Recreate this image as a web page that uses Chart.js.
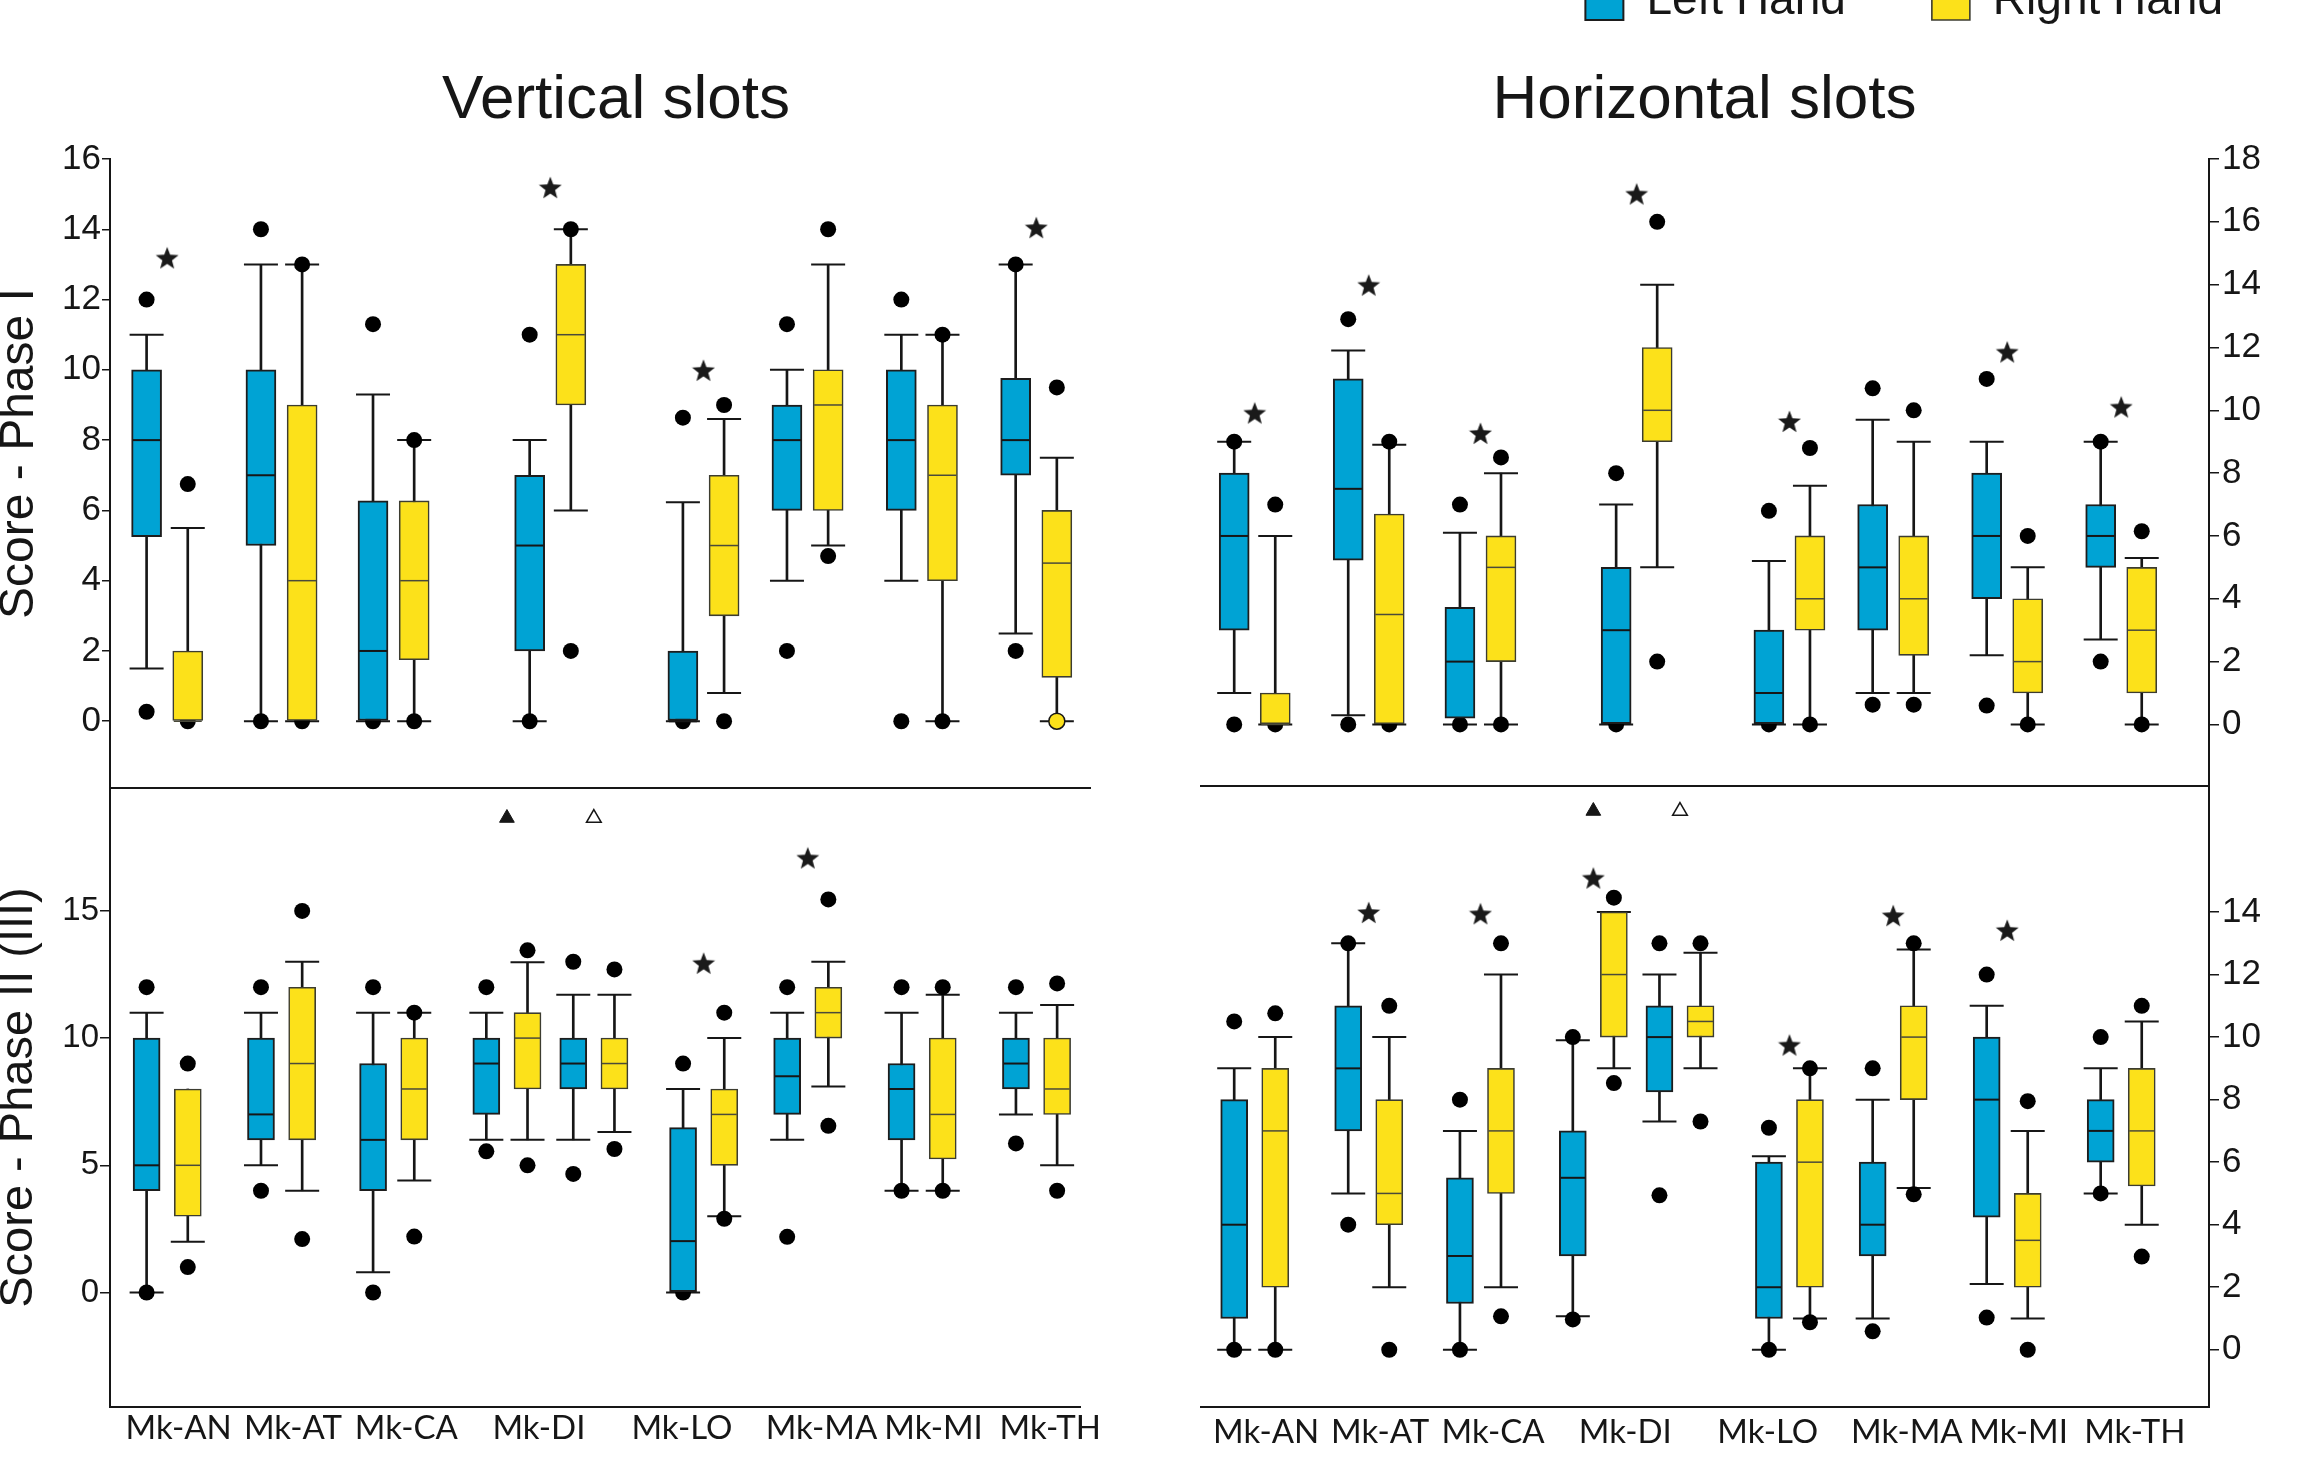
<!DOCTYPE html>
<html><head><meta charset="utf-8">
<script src="https://cdn.jsdelivr.net/npm/chart.js@4/dist/chart.umd.min.js"></script>
<style>
html,body{margin:0;padding:0;background:#fff;width:2309px;height:1461px;overflow:hidden;position:relative}
.p{position:absolute}
</style></head><body>
<div class="p" style="left:0px;top:788px;width:1150px;height:673px"><canvas id="cBL"></canvas></div>
<div class="p" style="left:1200px;top:786px;width:1109px;height:675px"><canvas id="cBR"></canvas></div>
<div class="p" style="left:0px;top:0px;width:1232px;height:800px"><canvas id="cTL"></canvas></div>
<div class="p" style="left:1200px;top:-108px;width:1109px;height:908px"><canvas id="cTR"></canvas></div>
<script>
// ---------- categories & ticks ----------
const categories = ['Mk-AN','Mk-AT','Mk-CA','Mk-DI','Mk-LO','Mk-MA','Mk-MI','Mk-TH'];
const ticksVI  = [0,2,4,6,8,10,12,14,16];
const ticksHI  = [0,2,4,6,8,10,12,14,16,18];
const ticksVII = [0,5,10,15];
const ticksHII = [0,2,4,6,8,10,12,14];

// ---------- Phase I, vertical slots ----------
const vI_L_q1  = [5.25, 5, 0, 2, 0, 6, 6, 7];
const vI_L_med = [8, 7, 2, 5, 0, 8, 8, 8];
const vI_L_q3  = [10, 10, 6.27, 7, 2, 9, 10, 9.76];
const vI_L_lo  = [1.5, 0, 0, 0, 0, 4, 4, 2.5];
const vI_L_hi  = [11, 13, 9.3, 8, 6.23, 10, 11, 13];
const vI_L_out = [[12, 0.27], [14, 0], [11.3, 0], [11, 0], [8.64, 0], [11.3, 2], [12, 0], [13, 2]];
const vI_R_q1  = [0, 0, 1.75, 9, 3, 6, 4, 1.25];
const vI_R_med = [0, 4, 4, 11, 5, 9, 7, 4.5];
const vI_R_q3  = [2, 9, 6.27, 13, 7, 10, 9, 6];
const vI_R_lo  = [null, 0, 0, 6, 0.8, 5, 0, 0];
const vI_R_hi  = [5.5, 13, 8, 14, 8.6, 13, 11, 7.5];
const vI_R_out = [[6.75, 0], [13, 0], [8, 0], [14, 2], [9, 0], [14, 4.7], [11, 0], [9.5]];
const vI_R_hollow = [null, null, null, null, null, null, null, 0];
const vI_stars = [13.2, null, null, 15.2, 10, null, null, 14.06];

// ---------- Phase I, horizontal slots ----------
const hI_L_q1  = [3, 5.23, 0.2, 0, 0, 3, 4, 5];
const hI_L_med = [6, 7.5, 2, 3, 1, 5, 6, 6];
const hI_L_q3  = [8, 11, 3.73, 5, 3, 7, 8, 7];
const hI_L_lo  = [1, 0.29, 0, 0, 0, 1, 2.2, 2.7];
const hI_L_hi  = [9, 11.9, 6.1, 7, 5.2, 9.7, 9, 9];
const hI_L_out = [[9, 0], [12.9, 0], [7, 0], [8, 0], [6.8, 0], [10.7, 0.63], [11, 0.6], [9, 2]];
const hI_R_q1  = [0, 0, 2, 9, 3, 2.2, 1, 1];
const hI_R_med = [0, 3.5, 5, 10, 4, 4, 2, 3];
const hI_R_q3  = [1, 6.7, 6, 12, 6, 6, 4, 5];
const hI_R_lo  = [0, 0, 0, 5, 0, 1, 0, 0];
const hI_R_hi  = [6, 8.9, 8, 14, 7.6, 9, 5, 5.3];
const hI_R_out = [[7, 0], [9, 0], [8.5, 0], [16, 2], [8.8, 0], [10, 0.63], [6, 0], [6.15, 0]];
const hI_stars = [9.93, 14, 9.28, 16.9, 9.66, null, 11.87, 10.12];

// ---------- Phase II (III), vertical slots (Mk-DI has two pairs) ----------
const vII_L_q1  = [4, 6, 4, 7, 8, 0, 7, 6, 8];
const vII_L_med = [5, 7, 6, 9, 9, 2.02, 8.5, 8, 9];
const vII_L_q3  = [10, 10, 9, 10, 10, 6.48, 10, 9, 10];
const vII_L_lo  = [0, 5, 0.8, 6, 6, 0, 6, 4, 7];
const vII_L_hi  = [11, 11, 11, 11, 11.7, 8, 11, 11, 11];
const vII_L_out = [[12, 0], [12, 4], [12, 0], [12, 5.55], [13, 4.66], [9, 0], [12, 2.19], [12, 4], [12, 5.86]];
const vII_R_q1  = [3, 6, 6, 8, 8, 5, 10, 5.25, 7];
const vII_R_med = [5, 9, 8, 10, 9, 7, 11, 7, 8];
const vII_R_q3  = [8, 12, 10, 11, 10, 8, 12, 10, 10];
const vII_R_lo  = [2, 4, 4.4, 6, 6.31, 3, 8.1, 4, 5];
const vII_R_hi  = [null, 13, 11, 12.98, 11.7, 10, 13, 11.7, 11.3];
const vII_R_out = [[9, 1], [15, 2.1], [11, 2.2], [13.45, 5], [12.7, 5.64], [11, 2.9], [15.45, 6.55], [12, 4], [12.15, 4]];
const vII_stars = [null, null, null, null, null, 12.96, 17.1, null, null];
const vII_triFilled = [null, null, null, 18.65, null, null, null, null, null];
const vII_triOpen   = [null, null, null, null, 18.65, null, null, null, null];

// ---------- Phase II (III), horizontal slots ----------
const hII_L_q1  = [1, 7, 1.48, 3, 8.25, 1, 3, 4.24, 6];
const hII_L_med = [4, 9, 3, 5.5, 10, 2, 4, 8, 7];
const hII_L_q3  = [8, 11, 5.5, 7, 11, 6, 6, 10, 8];
const hII_L_lo  = [0, 5, 0, 1.07, 7.3, 0, 1, 2.1, 5];
const hII_L_hi  = [9, 13, 7, 9.9, 12, 6.19, 8, 11, 9];
const hII_L_out = [[10.5, 0], [13, 4], [8, 0], [10, 0.97], [13, 4.94], [7.1, 0], [9, 0.59], [12, 1.03], [10, 5]];
const hII_R_q1  = [2, 4, 5, 10, 10, 2, 8, 2, 5.24];
const hII_R_med = [7, 5, 7, 12, 10.5, 6, 10, 3.5, 7];
const hII_R_q3  = [9, 8, 9, 14, 11, 8, 11, 5, 9];
const hII_R_lo  = [0, 2, 2, 9, 9, 1, 5.17, 1, 4];
const hII_R_hi  = [10, 10, 12, 14, 12.7, 9, 12.8, 7, 10.5];
const hII_R_out = [[10.76, 0], [11, 0], [13, 1.07], [14.46, 8.53], [13, 7.3], [9, 0.88], [13, 4.97], [7.95, 0], [11, 2.98]];
const hII_stars = [null, 14, 13.96, 15.1, null, 9.76, 13.9, 13.43, null];
const hII_triFilled = [null, null, null, 17.23, null, null, null, null, null];
const hII_triOpen   = [null, null, null, null, 17.23, null, null, null, null];

// ---------- layout (axis units) ----------
const groupPosI  = [1, 2, 2.98, 4.35, 5.69, 6.6, 7.6, 8.6];
const groupPosII = [1, 2, 2.98, 3.97, 4.73, 5.69, 6.6, 7.6, 8.6];
const labelPos   = [1.1, 2.1, 3.09, 4.25, 5.5, 6.72, 7.7, 8.72];
const handOffset = 0.18;

const LEFT_COLOR = 'rgb(0,163,212)';
const RIGHT_COLOR = 'rgb(252,225,26)';
const INK = '#161616';
const SANS = 'Liberation Sans';

Chart.defaults.font.family = SANS;
Chart.defaults.color = INK;

function starImage(size, color) {
  const c = document.createElement('canvas'); c.width = c.height = size;
  const g = c.getContext('2d'); g.fillStyle = color; g.beginPath();
  const cx = size / 2, cy = size / 2 + size * 0.06, R = size / 2, r = R * 0.42;
  for (let k = 0; k < 10; k++) {
    const a = -Math.PI / 2 + k * Math.PI / 5, rr = k % 2 ? r : R;
    g.lineTo(cx + rr * Math.cos(a), cy + rr * Math.sin(a));
  }
  g.closePath(); g.fill(); return c;
}
const STAR = starImage(24, '#1a1a1a');

function series(q1, med, q3, lo, hi, out) { return {q1, med, q3, lo, hi, out}; }

function pts(xs, ys) {
  const r = [];
  xs.forEach((x, i) => { if (ys[i] != null) r.push({x, y: ys[i]}); });
  return r;
}

function panelDatasets(L, R, groupPos, boxW, marks) {
  const ds = [];
  const hands = [
    ['Left Hand', L, -handOffset, LEFT_COLOR, '#1d1d1d', 2, INK, 2],
    ['Right Hand', R, handOffset, RIGHT_COLOR, '#3c3c30', 1.6, '#4a4a3a', 1.5]
  ];
  hands.forEach(([name, s, dx, fill, edge, edgeW, medColor, medW]) => {
    const xs = groupPos.map(p => p + dx);
    ds.push({type: 'bar', label: '', order: 7, grouped: false, barThickness: 2, borderWidth: 0,
      backgroundColor: INK,
      data: xs.map((x, i) => ({x, y: [s.lo[i] ?? s.q1[i], s.hi[i] ?? s.q3[i]]}))});
    ds.push({type: 'scatter', label: '', order: 6, pointStyle: 'line', pointRadius: 17,
      pointBorderColor: INK, pointBorderWidth: 2,
      data: pts(xs, s.lo).concat(pts(xs, s.hi))});
    const dots = [];
    xs.forEach((x, i) => s.out[i].forEach(v => dots.push({x, y: v})));
    ds.push({type: 'scatter', label: '', order: 5, pointStyle: 'circle', pointRadius: 8,
      pointBackgroundColor: '#000', pointBorderWidth: 0, data: dots});
    ds.push({type: 'bar', label: name, order: 4, grouped: false, barThickness: boxW,
      backgroundColor: fill, borderColor: edge, borderWidth: edgeW, borderSkipped: false,
      data: xs.map((x, i) => ({x, y: [s.q1[i], s.q3[i]]}))});
    ds.push({type: 'scatter', label: '', order: 3, pointStyle: 'line', pointRadius: boxW / 2 - 1,
      pointBorderColor: medColor, pointBorderWidth: medW,
      data: xs.map((x, i) => ({x, y: s.med[i]}))});
  });
  if (marks.stars) ds.push({type: 'scatter', label: '', order: 2, pointStyle: STAR, pointRadius: 11,
      data: pts(groupPos, marks.stars)});
  if (marks.triFilled) ds.push({type: 'scatter', label: '', order: 2, pointStyle: 'triangle', pointRadius: 8.5,
      pointBackgroundColor: INK, pointBorderColor: INK, pointBorderWidth: 1, data: pts(groupPos, marks.triFilled)});
  if (marks.triOpen) ds.push({type: 'scatter', label: '', order: 2, pointStyle: 'triangle', pointRadius: 8.5,
      pointBackgroundColor: '#fff', pointBorderColor: INK, pointBorderWidth: 1.5, data: pts(groupPos, marks.triOpen)});
  if (marks.hollow) ds.push({type: 'scatter', label: '', order: 1, pointStyle: 'circle', pointRadius: 8,
      pointBackgroundColor: RIGHT_COLOR, pointBorderColor: INK, pointBorderWidth: 1.5,
      data: pts(groupPos.map(p => p + handOffset), marks.hollow)});
  return ds;
}

function yAxis(o) {
  return {
    type: 'linear', position: o.position, min: o.min, max: o.max,
    afterBuildTicks: ax => { ax.ticks = o.ticks.map(v => ({value: v})); },
    afterFit: ax => { ax.width = o.width; ax.paddingTop = 0; ax.paddingBottom = 0; },
    grid: {display: true, drawOnChartArea: false, drawTicks: true, tickLength: o.tickLength, color: INK, lineWidth: 1.5},
    border: {display: true, color: INK, width: 2},
    ticks: {padding: o.pad, color: INK, font: {family: SANS, size: o.fontSize}, callback: v => String(v)},
    title: o.title ? {display: true, text: o.title, color: INK,
      font: {family: SANS, size: o.titleSize, lineHeight: 1}, padding: {top: -4, bottom: 0}} : {display: false}
  };
}

function xAxis(o) {
  const ax = {
    type: 'linear', position: 'bottom', min: o.min, max: o.max, offset: false,
    afterFit: a => { a.height = o.height; a.paddingLeft = 0; a.paddingRight = 0; },
    grid: {display: false, drawTicks: false},
    border: {display: true, color: INK, width: 2},
    ticks: {display: false}
  };
  if (o.labels) {
    ax.afterBuildTicks = a => { a.ticks = labelPos.map(v => ({value: v})); };
    ax.ticks = {display: true, autoSkip: false, maxRotation: 0, minRotation: 0, padding: o.pad,
      color: INK, font: {family: 'Lato', size: 33}, callback: (v, i) => categories[i]};
  }
  return ax;
}

function makeChart(id, datasets, scales, plugins, padding) {
  return new Chart(document.getElementById(id), {
    type: 'bar',
    data: {datasets},
    options: {
      animation: false, responsive: true, maintainAspectRatio: false, devicePixelRatio: 1,
      events: [], layout: {padding: padding || 0, autoPadding: false},
      plugins: Object.assign({tooltip: {enabled: false}, legend: {display: false}}, plugins),
      scales
    }
  });
}

// ---------- Top-left: Vertical slots, Phase I ----------
makeChart('cTL',
  panelDatasets(series(vI_L_q1, vI_L_med, vI_L_q3, vI_L_lo, vI_L_hi, vI_L_out),
                series(vI_R_q1, vI_R_med, vI_R_q3, vI_R_lo, vI_R_hi, vI_R_out),
                groupPosI, 30, {stars: vI_stars, hollow: vI_R_hollow}),
  {
    x: xAxis({min: 0.5, max: 9.07, height: 12}),
    y: yAxis({position: 'left', min: -1.9, max: 16, ticks: ticksVI, width: 110, tickLength: 8, pad: 1,
              fontSize: 35, title: '   Score - Phase I', titleSize: 48}),
    y2: {type: 'linear', position: 'right', display: true,
         afterFit: a => { a.width = 142; a.paddingTop = 0; a.paddingBottom = 0; },
         grid: {display: false, drawTicks: false}, border: {display: false}, ticks: {display: false}}
  },
  {title: {display: true, text: 'Vertical slots', fullSize: true, color: INK,
           font: {family: SANS, size: 62, weight: 'normal', lineHeight: 1.2}, padding: {top: 64, bottom: 20.6}}}
);

// ---------- Top-right: Horizontal slots, Phase I ----------
makeChart('cTR',
  panelDatasets(series(hI_L_q1, hI_L_med, hI_L_q3, hI_L_lo, hI_L_hi, hI_L_out),
                series(hI_R_q1, hI_R_med, hI_R_q3, hI_R_lo, hI_R_hi, hI_R_out),
                groupPosI, 30, {stars: hI_stars}),
  {
    x: xAxis({min: 0.52, max: 9.37, height: 14}),
    y: yAxis({position: 'right', min: -1.96, max: 18, ticks: ticksHI, width: 100, tickLength: 10, pad: 3, fontSize: 35})
  },
  {
    legend: {display: true, position: 'top', align: 'end', fullSize: true, weight: 3000,
      labels: {boxWidth: 38, boxHeight: 38, padding: 86, color: INK, font: {family: SANS, size: 46},
               filter: item => item.text === 'Left Hand' || item.text === 'Right Hand'}},
    title: {display: true, text: 'Horizontal slots', fullSize: false, weight: 2000, color: INK,
            font: {family: SANS, size: 62, weight: 'normal', lineHeight: 1.2}, padding: {top: 30, bottom: 20.6}}
  }
);

// ---------- Bottom-left: Vertical slots, Phase II (III) ----------
makeChart('cBL',
  panelDatasets(series(vII_L_q1, vII_L_med, vII_L_q3, vII_L_lo, vII_L_hi, vII_L_out),
                series(vII_R_q1, vII_R_med, vII_R_q3, vII_R_lo, vII_R_hi, vII_R_out),
                groupPosII, 27, {stars: vII_stars, triFilled: vII_triFilled, triOpen: vII_triOpen}),
  {
    x: xAxis({min: 0.5, max: 8.98, height: 54, labels: true, pad: 2}),
    y: yAxis({position: 'left', min: -4.5, max: 19.83, ticks: ticksVII, width: 110, tickLength: 10, pad: 1,
              fontSize: 33, title: 'Score - Phase II (III)', titleSize: 47})
  },
  {}, {left: 0, top: 0, bottom: 0, right: 70}
);

// ---------- Bottom-right: Horizontal slots, Phase II (III) ----------
makeChart('cBR',
  panelDatasets(series(hII_L_q1, hII_L_med, hII_L_q3, hII_L_lo, hII_L_hi, hII_L_out),
                series(hII_R_q1, hII_R_med, hII_R_q3, hII_R_lo, hII_R_hi, hII_R_out),
                groupPosII, 27, {stars: hII_stars, triFilled: hII_triFilled, triOpen: hII_triOpen}),
  {
    x: xAxis({min: 0.52, max: 9.37, height: 54, labels: true, pad: 6}),
    y: yAxis({position: 'right', min: -1.83, max: 18.03, ticks: ticksHII, width: 100, tickLength: 10, pad: 3, fontSize: 35})
  },
  {}
);
</script>
</body></html>
